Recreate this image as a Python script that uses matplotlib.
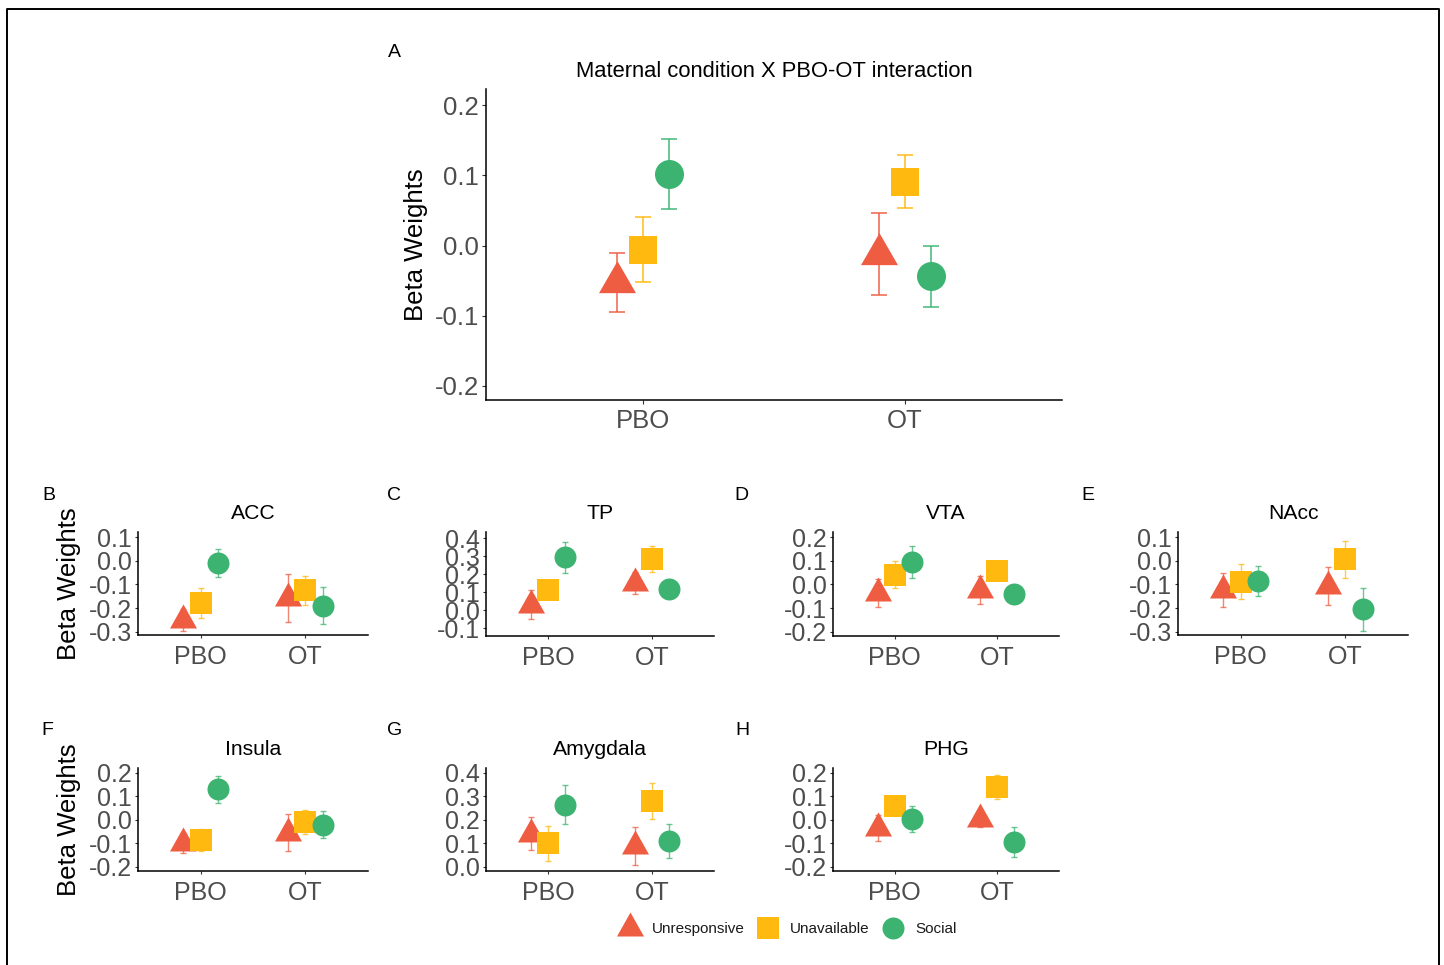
import numpy as np
import matplotlib
matplotlib.use("Agg")
import matplotlib.pyplot as plt
from matplotlib.path import Path
from matplotlib.markers import MarkerStyle
from matplotlib.lines import Line2D

plt.rcParams['font.family'] = ['Liberation Sans', 'DejaVu Sans']
plt.rcParams['axes.unicode_minus'] = False

W, H, DPI = 1444, 965, 100

# ---------------- data ----------------
conditions = ["PBO", "OT"]
groups = ["Unresponsive", "Unavailable", "Social"]
colors = ["#EE5C42", "#FFB90F", "#3CB371"]

# rows = groups (Unresponsive, Unavailable, Social); cols = conditions (PBO, OT)
interaction_mean = [[-0.052, -0.012], [-0.006, 0.091], [0.102, -0.044]]
interaction_se = [[0.042, 0.059], [0.046, 0.0375], [0.0495, 0.0435]]

acc_mean = [[-0.249, -0.158], [-0.180, -0.125], [-0.009, -0.190]]
acc_se = [[0.047, 0.102], [0.063, 0.062], [0.061, 0.078]]

tp_mean = [[0.031, 0.150], [0.115, 0.283], [0.294, 0.116]]
tp_se = [[0.081, 0.062], [0.040, 0.072], [0.088, 0.045]]

vta_mean = [[-0.037, -0.023], [0.041, 0.055], [0.096, -0.039]]
vta_se = [[0.059, 0.059], [0.058, 0.035], [0.067, 0.035]]

nacc_mean = [[-0.124, -0.107], [-0.088, 0.006], [-0.085, -0.205]]
nacc_se = [[0.072, 0.082], [0.075, 0.077], [0.064, 0.092]]

insula_mean = [[-0.099, -0.055], [-0.086, -0.008], [0.130, -0.021]]
insula_se = [[0.044, 0.078], [0.048, 0.051], [0.057, 0.057]]

amygdala_mean = [[0.141, 0.087], [0.099, 0.281], [0.264, 0.109]]
amygdala_se = [[0.070, 0.080], [0.073, 0.076], [0.082, 0.073]]

phg_mean = [[-0.034, 0.004], [0.057, 0.139], [0.003, -0.094]]
phg_se = [[0.056, 0.035], [0.035, 0.050], [0.057, 0.065]]

panel_titles = ["Maternal condition X PBO-OT interaction", "ACC", "TP", "VTA",
                "NAcc", "Insula", "Amygdala", "PHG"]
panel_letters = ["A", "B", "C", "D", "E", "F", "G", "H"]
y_label = "Beta Weights"

# ---------------- helpers ----------------
def px_marker(verts, codes=None):
    verts = np.asarray(verts, float)
    path = Path(verts, codes)
    ms = 2 * np.max(np.abs(verts)) * 72 / DPI
    return MarkerStyle(path), ms

def tri(w, h):
    return px_marker([(0, 2 * h / 3), (-w / 2, -h / 3), (w / 2, -h / 3), (0, 2 * h / 3)],
                     [Path.MOVETO, Path.LINETO, Path.LINETO, Path.CLOSEPOLY])

def sq(a):
    return px_marker([(-a, -a), (a, -a), (a, a), (-a, a), (-a, -a)],
                     [Path.MOVETO, Path.LINETO, Path.LINETO, Path.LINETO, Path.CLOSEPOLY])

def circ(r):
    uc = Path.unit_circle()
    return px_marker(uc.vertices * r, uc.codes)

markers_big = [tri(37, 32), sq(14), circ(14.5)]
markers_small = [tri(27, 24), sq(11), circ(11)]

def add_ax(fig, l, r, t, b):
    return fig.add_axes([l / W, 1 - b / H, (r - l) / W, (b - t) / H])

def draw(ax, means, ses, dodge, markers, cap, elw, ylim, yticks, tsize, title,
         tpad, titlesize, tlen, xpad):
    x = np.arange(1, len(conditions) + 1)
    for gi in range(len(groups)):
        xs = x + (gi - 1) * dodge
        ax.errorbar(xs, means[gi], yerr=ses[gi], fmt='none', ecolor=colors[gi],
                    elinewidth=elw, capsize=cap, capthick=elw, alpha=0.75, zorder=2)
        m, ms = markers[gi]
        ax.plot(xs, means[gi], linestyle='none', marker=m, markersize=ms,
                color=colors[gi], mew=0, zorder=3)
    ax.set_xlim(0.4, 2.6)
    ax.set_ylim(*ylim)
    ax.set_xticks(x)
    ax.set_xticklabels(conditions)
    ax.set_yticks(yticks)
    ax.set_yticklabels(["%.1f" % v for v in yticks])
    for s in ["top", "right"]:
        ax.spines[s].set_visible(False)
    for s in ["left", "bottom"]:
        ax.spines[s].set_linewidth(1.1)
        ax.spines[s].set_color("black")
    ax.tick_params(axis='both', length=tlen, width=0.8, color="#333333",
                   labelcolor="#4D4D4D", labelsize=tsize, pad=2)
    ax.tick_params(axis='x', pad=xpad)
    ax.set_title(title, fontsize=titlesize, color="black", pad=tpad)

fig = plt.figure(figsize=(W / DPI, H / DPI), dpi=DPI)

# Panel A
axA = add_ax(fig, 486, 1062, 89, 400)
draw(axA, interaction_mean, interaction_se, 0.1, markers_big, 5.9, 1.4,
     (-0.22, 0.223), [-0.2, -0.1, 0.0, 0.1, 0.2], 18.5, panel_titles[0], 8.5, 15.8, 3.0, 3.5)
axA.set_ylabel(y_label, fontsize=18.5, color="black", va="center")
axA.yaxis.set_label_coords((416 - 486) / 576, 0.5)

small = [
    (acc_mean, acc_se, (138, 368, 532, 635), (-0.314, 0.122), [-0.3, -0.2, -0.1, 0.0, 0.1]),
    (tp_mean, tp_se, (486, 714, 532, 636), (-0.143, 0.435), [-0.1, 0.0, 0.1, 0.2, 0.3, 0.4]),
    (vta_mean, vta_se, (833, 1059, 532, 636), (-0.218, 0.222), [-0.2, -0.1, 0.0, 0.1, 0.2]),
    (nacc_mean, nacc_se, (1178, 1408, 532, 635), (-0.314, 0.122), [-0.3, -0.2, -0.1, 0.0, 0.1]),
    (insula_mean, insula_se, (138, 368, 768, 871), (-0.218, 0.22), [-0.2, -0.1, 0.0, 0.1, 0.2]),
    (amygdala_mean, amygdala_se, (486, 714, 768, 871), (-0.018, 0.42), [0.0, 0.1, 0.2, 0.3, 0.4]),
    (phg_mean, phg_se, (833, 1059, 768, 871), (-0.218, 0.22), [-0.2, -0.1, 0.0, 0.1, 0.2]),
]
for i, (mn, se, (l, r, t, b), yl, yt) in enumerate(small):
    ax = add_ax(fig, l, r, t, b)
    draw(ax, mn, se, 0.165, markers_small, 2.5, 1.0, yl, yt, 18, panel_titles[i + 1],
         9.5, 15.2, 2.5, 4.5)
    if l == 138:
        ax.set_ylabel(y_label, fontsize=18.5, color="black", va="center")
        ax.yaxis.set_label_coords((69 - l) / (r - l), 0.5)

# panel letters
letter_pos = [(388, 57), (42, 500), (387, 500), (734, 500), (1081, 500),
              (41, 735), (387, 735), (735, 735)]
for letter, (lx, ly) in zip(panel_letters, letter_pos):
    fig.text(lx / W, 1 - ly / H, letter, fontsize=14, color="black",
             ha="left", va="baseline")

# legend
handles = [Line2D([], [], linestyle='none', marker=markers_small[i][0],
                  markersize=markers_small[i][1], color=colors[i], mew=0)
           for i in range(len(groups))]
fig.legend(handles, groups, loc="center", bbox_to_anchor=(787 / W, 1 - 929 / H),
           ncol=3, frameon=False, fontsize=11, handlelength=1.6, handletextpad=0.67,
           columnspacing=0.7, labelcolor="#1A1A1A", borderpad=0, borderaxespad=0)

# outer frame
fx = [7 / W, 7 / W, 1439 / W, 1439 / W]
fy = [0, 1 - 9 / H, 1 - 9 / H, 0]
fig.add_artist(Line2D(fx, fy, transform=fig.transFigure, color="black", lw=1.4))

fig.savefig("out.png", dpi=DPI)
